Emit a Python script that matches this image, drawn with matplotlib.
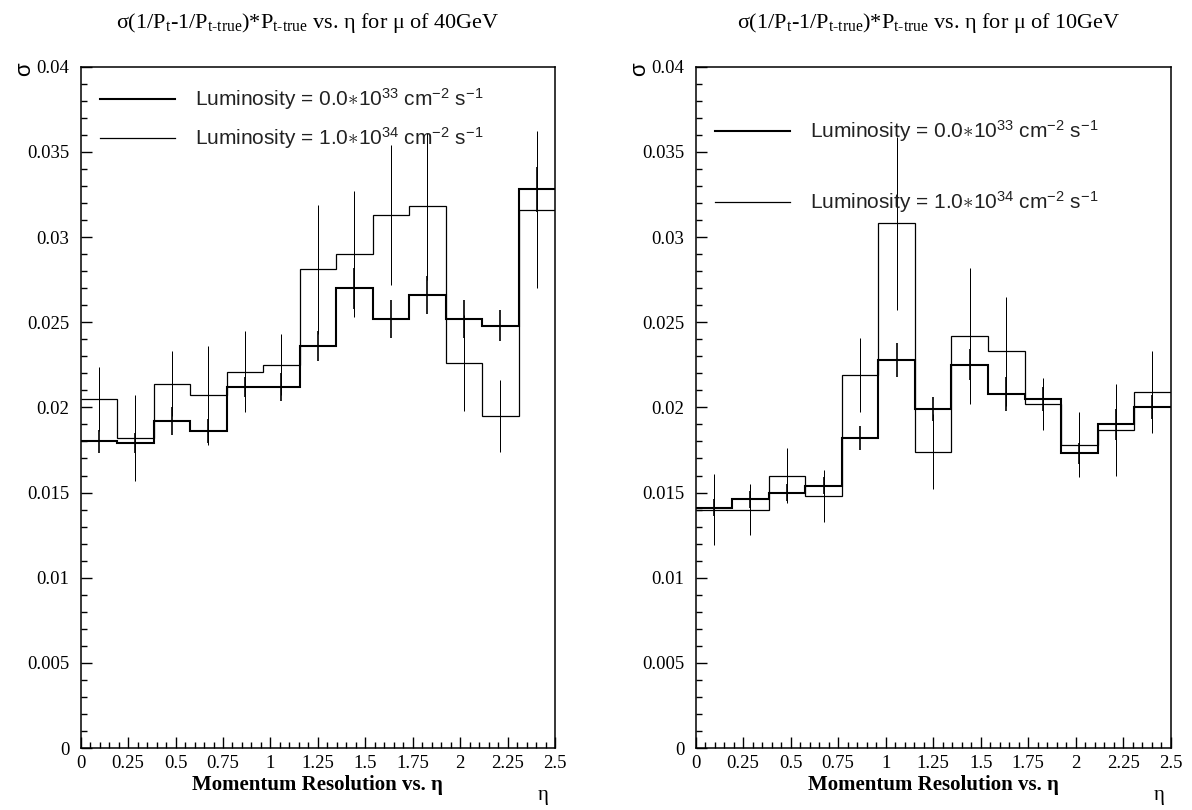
import numpy as np
import matplotlib
matplotlib.use("Agg")
import matplotlib.pyplot as plt
from matplotlib.ticker import MultipleLocator, FormatStrFormatter

plt.rcParams["font.family"] = ["Liberation Serif", "DejaVu Serif"]
plt.rcParams["mathtext.fontset"] = "custom"
plt.rcParams["mathtext.rm"] = "Liberation Serif"
plt.rcParams["mathtext.it"] = "Liberation Serif:italic"
plt.rcParams["mathtext.sf"] = "Liberation Sans"

# 13 equal eta bins between 0 and 2.5
n_bins = 13
eta_max = 2.5
edges = np.linspace(0, eta_max, n_bins + 1)
centers = 0.5 * (edges[:-1] + edges[1:])

# muon pT = 40 GeV
lum0_40 = [0.0180, 0.0179, 0.0192, 0.0186, 0.0212, 0.0212, 0.0236,
           0.0270, 0.0252, 0.0266, 0.0252, 0.0248, 0.0328]
lum0_40_err = [0.0007, 0.0006, 0.0008, 0.0007, 0.0006, 0.0008, 0.0009,
               0.0012, 0.0011, 0.0011, 0.0011, 0.0009, 0.0013]
lum1_40 = [0.0205, 0.0182, 0.0214, 0.0207, 0.0221, 0.0225, 0.0281,
           0.0290, 0.0313, 0.0318, 0.0226, 0.0195, 0.0316]
lum1_40_err = [0.0019, 0.0025, 0.0019, 0.0029, 0.0024, 0.0018, 0.0038,
               0.0037, 0.0041, 0.0043, 0.0028, 0.0021, 0.0046]

# muon pT = 10 GeV
lum0_10 = [0.0141, 0.0146, 0.0150, 0.0154, 0.0182, 0.0228, 0.0199,
           0.0225, 0.0208, 0.0205, 0.0173, 0.0190, 0.0200]
lum0_10_err = [0.0005, 0.0005, 0.0005, 0.0005, 0.0007, 0.0010, 0.0007,
               0.0009, 0.0010, 0.0007, 0.0006, 0.0009, 0.0007]
lum1_10 = [0.0140, 0.0140, 0.0160, 0.0148, 0.0219, 0.0308, 0.0174,
           0.0242, 0.0233, 0.0202, 0.0178, 0.0187, 0.0209]
lum1_10_err = [0.0021, 0.0015, 0.0016, 0.0015, 0.0022, 0.0051, 0.0022,
               0.0040, 0.0032, 0.0015, 0.0019, 0.0027, 0.0024]

lum_labels = [r"Luminosity = 0.0$\ast$10$^{\mathsf{33}}$ cm$^{\mathsf{-2}}$ s$^{\mathsf{-1}}$",
              r"Luminosity = 1.0$\ast$10$^{\mathsf{34}}$ cm$^{\mathsf{-2}}$ s$^{\mathsf{-1}}$"]
energies = ["40GeV", "10GeV"]

SANS = "Liberation Sans"
LW_THICK = 1.5
LW_THIN = 0.9


def title_text(energy):
    return (r"σ(1/P$_{\mathrm{t}}$-1/P$_{\mathrm{t\text{-}true}}$)*"
            r"P$_{\mathrm{t\text{-}true}}$ vs. η for μ of " + energy)


def draw_hist(ax, vals, errs, lw):
    ax.stairs(vals, edges, baseline=None, color="black", lw=lw)
    ax.errorbar(centers, vals, yerr=errs, fmt="none", ecolor="black",
                elinewidth=lw * 0.8, capsize=0)


def draw_key(ax, y, label, lw):
    ax.plot([0.04, 0.198], [y, y], transform=ax.transAxes, color="black",
            lw=lw, clip_on=False)
    ax.text(0.24, y, label, transform=ax.transAxes, family=SANS,
            fontsize=15, va="center", ha="left", color="#222222")


def style_axes(ax):
    ax.set_xlim(0, eta_max)
    ax.set_ylim(0, 0.04)
    ax.xaxis.set_major_locator(MultipleLocator(0.25))
    ax.xaxis.set_minor_locator(MultipleLocator(0.05))
    ax.yaxis.set_major_locator(MultipleLocator(0.005))
    ax.yaxis.set_minor_locator(MultipleLocator(0.001))
    ax.xaxis.set_major_formatter(FormatStrFormatter("%g"))
    ax.yaxis.set_major_formatter(FormatStrFormatter("%g"))
    ax.tick_params(which="both", direction="in", top=False, right=False,
                   labelsize=13.5, width=1.0)
    ax.tick_params(which="major", length=8)
    ax.tick_params(which="minor", length=4)
    ax.tick_params(axis="y", pad=8)
    ax.tick_params(axis="x", pad=5)
    for sp in ax.spines.values():
        sp.set_linewidth(1.1)
    ax.text(0.5, -0.054, "Momentum Resolution vs. η", transform=ax.transAxes,
            ha="center", va="center", fontsize=15, fontweight="bold")
    ax.text(0.975, -0.069, "η", transform=ax.transAxes,
            ha="center", va="center", fontsize=15)
    ax.text(-0.118, 0.997, "σ", transform=ax.transAxes, rotation=90,
            ha="center", va="center", fontsize=16, family=SANS)


fig = plt.figure(figsize=(11.92, 8.10), dpi=100)

ax1 = fig.add_axes([0.0677, 0.0765, 0.3979, 0.8411])
ax2 = fig.add_axes([0.5836, 0.0765, 0.3985, 0.8411])

panels = [
    (ax1, lum0_40, lum0_40_err, lum1_40, lum1_40_err, [0.9526, 0.8953], 0.2584),
    (ax2, lum0_10, lum0_10_err, lum1_10, lum1_10_err, [0.9056, 0.8014], 0.7794),
]

for (ax, v0, e0, v1, e1, key_y, tx), energy in zip(panels, energies):
    draw_hist(ax, v1, e1, LW_THIN)
    draw_hist(ax, v0, e0, LW_THICK)
    style_axes(ax)
    draw_key(ax, key_y[0], lum_labels[0], LW_THICK)
    draw_key(ax, key_y[1], lum_labels[1], LW_THIN)
    fig.text(tx, 0.972, title_text(energy), ha="center", va="center",
             fontsize=16)

fig.savefig("out.png", dpi=100)
